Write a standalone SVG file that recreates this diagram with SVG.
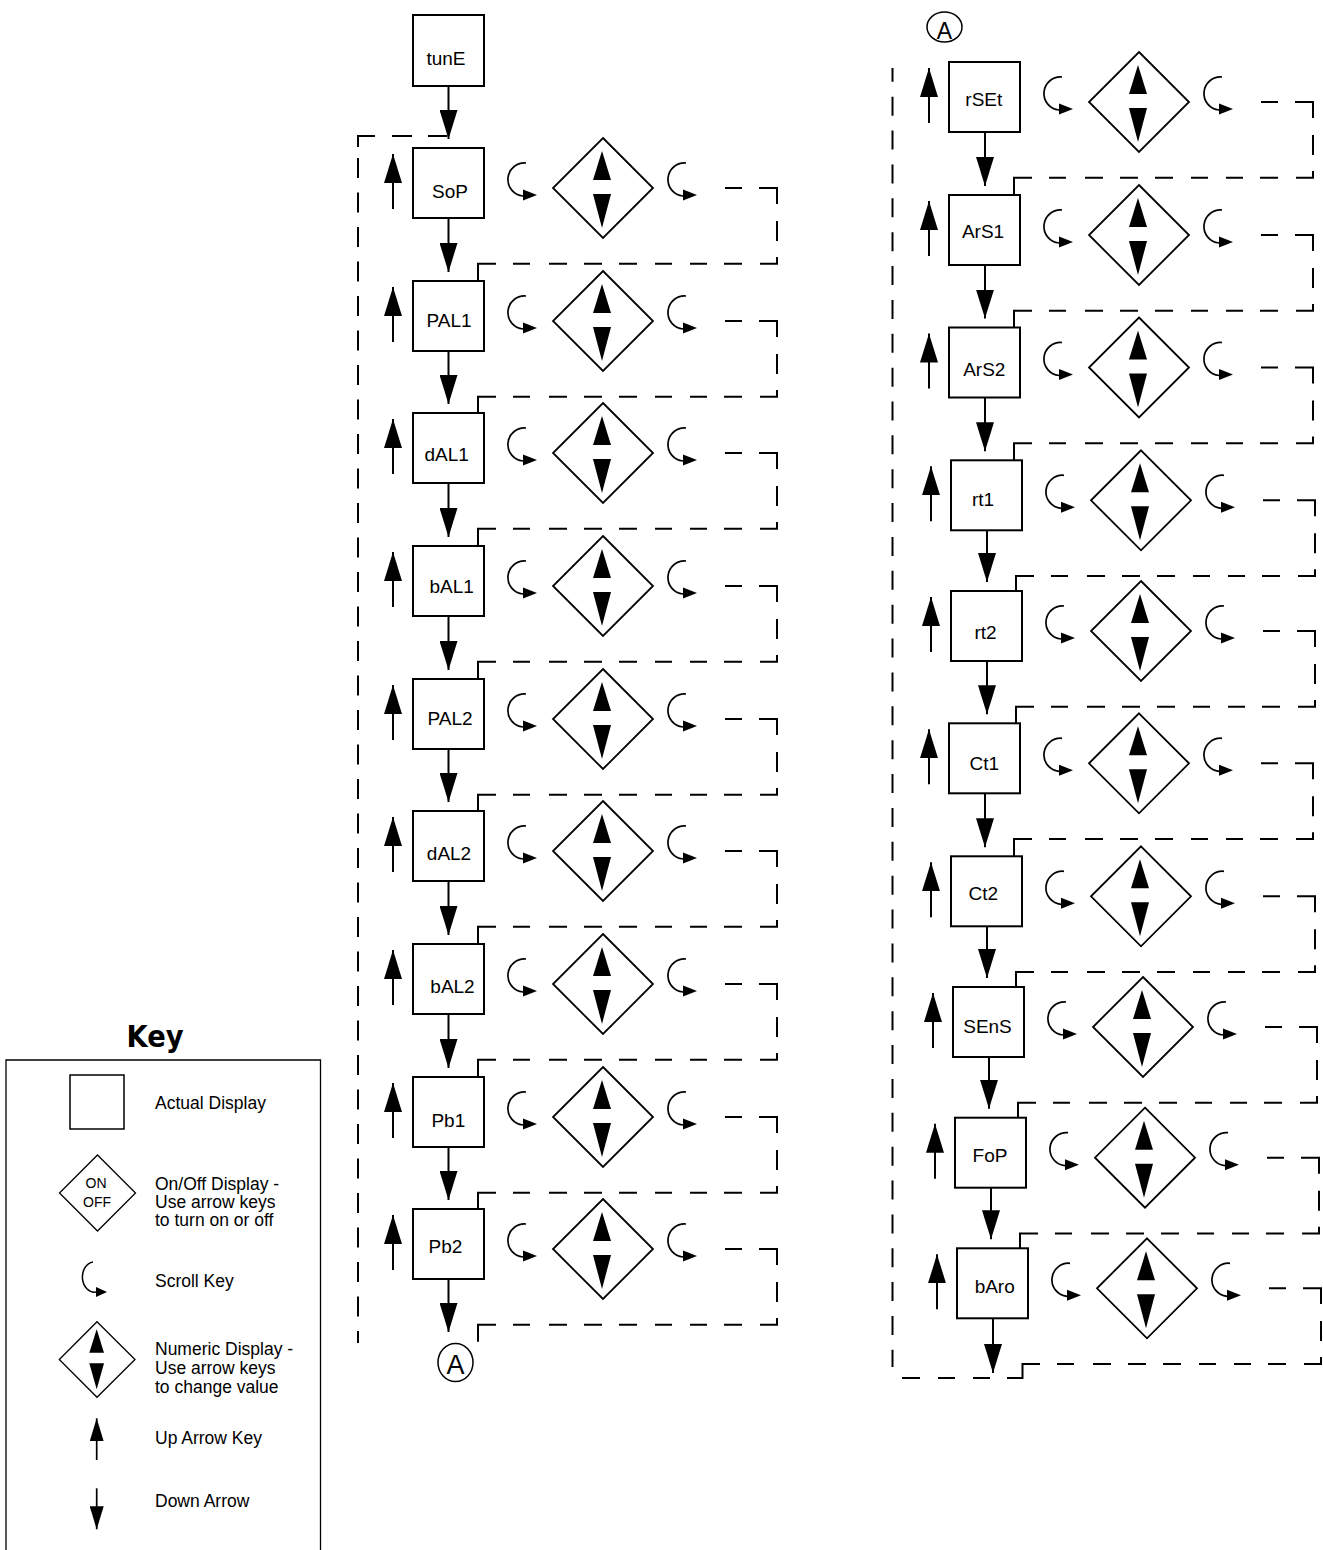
<svg xmlns="http://www.w3.org/2000/svg" width="1323" height="1550" viewBox="0 0 1323 1550">
<style>
.box{fill:#fff;stroke:#000;stroke-width:2}
.lbl{font-family:"Liberation Sans",Arial,sans-serif;font-size:19px;text-anchor:middle;fill:#000}
.ln{stroke:#000;stroke-width:2;fill:none}
.dl{stroke:#000;stroke-width:2;fill:none}
.arc{stroke:#000;stroke-width:1.7;fill:none}
.dia{fill:none;stroke:#000;stroke-width:1.8}
.kt{font-family:"Liberation Sans",Arial,sans-serif;font-size:17.5px;fill:#000}
.circ{fill:none;stroke:#000;stroke-width:1.5}
</style>
<defs>
<marker id="ah" viewBox="0 0 29 18" refX="29" refY="9" markerWidth="29" markerHeight="18" markerUnits="userSpaceOnUse" orient="auto"><path d="M0,0 L29,9 L0,18 z" fill="#000"/></marker>
<marker id="ahs" viewBox="0 0 23 14" refX="23" refY="7" markerWidth="23" markerHeight="14" markerUnits="userSpaceOnUse" orient="auto"><path d="M0,0 L23,7 L0,14 z" fill="#000"/></marker>
<g id="rowIcons">
<line x1="-20" y1="26" x2="-20" y2="-29" class="ln" marker-end="url(#ah)"/>
<path d="M113,-20 A16.5,16.5 0 0 0 110,13" class="arc"/>
<polygon points="110,6.5 124,12 110,17.5"/>
<polygon points="190,-45 240,5 190,55 140,5" class="dia"/>
<polygon points="189,-32 198,-3 180,-3"/>
<polygon points="180,11 198,11 189,45"/>
<path d="M273,-20 A16.5,16.5 0 0 0 270,13" class="arc"/>
<polygon points="270,6.5 284,12 270,17.5"/>
</g>
<path id="loop" class="dl" d="M312,5 H329 M346,5 H364 V21 M364,38 V58 M364,74 V80.7 H347 M329,80.7 H311 M294,80.7 H277 M259,80.7 H242 M224,80.7 H206 M189,80.7 H171 M154,80.7 H136 M117,80.7 H100 M83,80.7 H65 V97.7"/>
</defs>
<rect width="1323" height="1550" fill="#fff"/>

<g id="connectors">
<!-- left column down arrows -->
<g class="ln" marker-end="url(#ah)">
<line x1="448.5" y1="86" x2="448.5" y2="139" marker-end="url(#ah)"/>
<line x1="448.5" y1="218" x2="448.5" y2="272" marker-end="url(#ah)"/>
<line x1="448.5" y1="351" x2="448.5" y2="404" marker-end="url(#ah)"/>
<line x1="448.5" y1="483" x2="448.5" y2="537" marker-end="url(#ah)"/>
<line x1="448.5" y1="616" x2="448.5" y2="670" marker-end="url(#ah)"/>
<line x1="448.5" y1="749" x2="448.5" y2="802" marker-end="url(#ah)"/>
<line x1="448.5" y1="881" x2="448.5" y2="935" marker-end="url(#ah)"/>
<line x1="448.5" y1="1014" x2="448.5" y2="1068" marker-end="url(#ah)"/>
<line x1="448.5" y1="1147" x2="448.5" y2="1200" marker-end="url(#ah)"/>
<line x1="448.5" y1="1279" x2="448.5" y2="1332" marker-end="url(#ah)"/>
</g>
<!-- right column down arrows -->
<g class="ln">
<line x1="985" y1="132" x2="985" y2="186" marker-end="url(#ah)"/>
<line x1="985" y1="265" x2="985" y2="318.5" marker-end="url(#ah)"/>
<line x1="985" y1="397.5" x2="985" y2="451.3" marker-end="url(#ah)"/>
<line x1="987" y1="530.3" x2="987" y2="582" marker-end="url(#ah)"/>
<line x1="987" y1="661" x2="987" y2="714.3" marker-end="url(#ah)"/>
<line x1="985" y1="793.3" x2="985" y2="847.3" marker-end="url(#ah)"/>
<line x1="987" y1="926.3" x2="987" y2="978" marker-end="url(#ah)"/>
<line x1="989" y1="1057" x2="989" y2="1108.7" marker-end="url(#ah)"/>
<line x1="991" y1="1187.7" x2="991" y2="1239.3" marker-end="url(#ah)"/>
<line x1="993" y1="1318.3" x2="993" y2="1373" marker-end="url(#ah)"/>
</g>
<!-- left column loops -->
<use href="#loop" x="413" y="183"/>
<use href="#loop" x="413" y="316"/>
<use href="#loop" x="413" y="448"/>
<use href="#loop" x="413" y="581"/>
<use href="#loop" x="413" y="714"/>
<use href="#loop" x="413" y="846"/>
<use href="#loop" x="413" y="979"/>
<use href="#loop" x="413" y="1112"/>
<use href="#loop" x="413" y="1244"/>
<!-- left big return -->
<path class="dl" d="M447,136 H428 M412,136 H392 M375,136 H358 V147"/>
<path class="dl" d="M358,158 V1343" stroke-dasharray="20 14.5"/>
<!-- right column loops -->
<use href="#loop" x="949" y="97"/>
<use href="#loop" x="949" y="230"/>
<use href="#loop" x="949" y="362.5"/>
<use href="#loop" x="951" y="495.3"/>
<use href="#loop" x="951" y="626"/>
<use href="#loop" x="949" y="758.3"/>
<use href="#loop" x="951" y="891.3"/>
<use href="#loop" x="953" y="1022"/>
<use href="#loop" x="955" y="1152.7"/>
<path class="dl" d="M1269,1288.3 H1286 M1303,1288.3 H1321 V1304 M1321,1321 V1341 M1321,1357 V1364 H1304 M1286,1364 H1268 M1251,1364 H1234 M1216,1364 H1199 M1181,1364 H1163 M1146,1364 H1128 M1111,1364 H1093 M1074,1364 H1057 M1040,1364 H1022.5 V1378 H1007 M990,1378 H973 M955,1378 H938 M920,1378 H902"/>
<path class="dl" d="M892.5,68 V1367" stroke-dasharray="19 14.87" stroke-dashoffset="5.2"/>
</g>

<g id="node-tunE"><rect class="box" x="413" y="15" width="71" height="71"/><text class="lbl" x="446" y="65">tunE</text></g>

<g id="row-SoP"><use href="#rowIcons" x="413" y="183"/><rect class="box" x="413" y="148" width="71" height="70"/><text class="lbl" x="450" y="198">SoP</text></g>
<g id="row-PAL1"><use href="#rowIcons" x="413" y="316"/><rect class="box" x="413" y="281" width="71" height="70"/><text class="lbl" x="449" y="327">PAL1</text></g>
<g id="row-dAL1"><use href="#rowIcons" x="413" y="448"/><rect class="box" x="413" y="413" width="71" height="70"/><text class="lbl" x="446.7" y="461">dAL1</text></g>
<g id="row-bAL1"><use href="#rowIcons" x="413" y="581"/><rect class="box" x="413" y="546" width="71" height="70"/><text class="lbl" x="451.7" y="593">bAL1</text></g>
<g id="row-PAL2"><use href="#rowIcons" x="413" y="714"/><rect class="box" x="413" y="679" width="71" height="70"/><text class="lbl" x="450" y="725">PAL2</text></g>
<g id="row-dAL2"><use href="#rowIcons" x="413" y="846"/><rect class="box" x="413" y="811" width="71" height="70"/><text class="lbl" x="449" y="860">dAL2</text></g>
<g id="row-bAL2"><use href="#rowIcons" x="413" y="979"/><rect class="box" x="413" y="944" width="71" height="70"/><text class="lbl" x="452.5" y="993">bAL2</text></g>
<g id="row-Pb1"><use href="#rowIcons" x="413" y="1112"/><rect class="box" x="413" y="1077" width="71" height="70"/><text class="lbl" x="448.3" y="1127">Pb1</text></g>
<g id="row-Pb2"><use href="#rowIcons" x="413" y="1244"/><rect class="box" x="413" y="1209" width="71" height="70"/><text class="lbl" x="445.5" y="1253">Pb2</text></g>

<g id="conn-A-left"><ellipse class="circ" cx="455.5" cy="1362.5" rx="17.5" ry="19"/><text x="455.5" y="1374" font-family="Liberation Sans, Arial, sans-serif" font-size="27" text-anchor="middle">A</text></g>
<g id="conn-A-right"><ellipse class="circ" cx="944.5" cy="27" rx="17.5" ry="15"/><text x="944.5" y="39.3" font-family="Liberation Sans, Arial, sans-serif" font-size="23" text-anchor="middle">A</text></g>

<g id="row-rSEt"><use href="#rowIcons" x="949" y="97"/><rect class="box" x="949" y="62" width="71" height="70"/><text class="lbl" x="983.8" y="106">rSEt</text></g>
<g id="row-ArS1"><use href="#rowIcons" x="949" y="230"/><rect class="box" x="949" y="195" width="71" height="70"/><text class="lbl" x="983" y="238">ArS1</text></g>
<g id="row-ArS2"><use href="#rowIcons" x="949" y="362.5"/><rect class="box" x="949" y="327.5" width="71" height="70"/><text class="lbl" x="984.3" y="376">ArS2</text></g>
<g id="row-rt1"><use href="#rowIcons" x="951" y="495.3"/><rect class="box" x="951" y="460.3" width="71" height="70"/><text class="lbl" x="983" y="506">rt1</text></g>
<g id="row-rt2"><use href="#rowIcons" x="951" y="626"/><rect class="box" x="951" y="591" width="71" height="70"/><text class="lbl" x="985.5" y="639">rt2</text></g>
<g id="row-Ct1"><use href="#rowIcons" x="949" y="758.3"/><rect class="box" x="949" y="723.3" width="71" height="70"/><text class="lbl" x="984.2" y="770">Ct1</text></g>
<g id="row-Ct2"><use href="#rowIcons" x="951" y="891.3"/><rect class="box" x="951" y="856.3" width="71" height="70"/><text class="lbl" x="983.3" y="900">Ct2</text></g>
<g id="row-SEnS"><use href="#rowIcons" x="953" y="1022"/><rect class="box" x="953" y="987" width="71" height="70"/><text class="lbl" x="987.5" y="1033">SEnS</text></g>
<g id="row-FoP"><use href="#rowIcons" x="955" y="1152.7"/><rect class="box" x="955" y="1117.7" width="71" height="70"/><text class="lbl" x="990" y="1162">FoP</text></g>
<g id="row-bAro"><use href="#rowIcons" x="957" y="1283.3"/><rect class="box" x="957" y="1248.3" width="71" height="70"/><text class="lbl" x="994.7" y="1293">bAro</text></g>

<g id="key">
<text x="155" y="1047" font-family="Liberation Sans Narrow, DejaVu Sans Condensed, Liberation Sans, sans-serif" font-weight="bold" font-size="30" text-anchor="middle" textLength="57" lengthAdjust="spacingAndGlyphs">Key</text>
<path d="M6,1555 V1060 H320.5 V1555" fill="none" stroke="#000" stroke-width="1.3"/>
<rect x="70" y="1075" width="54" height="54" fill="none" stroke="#000" stroke-width="1.5"/>
<text class="kt" x="155" y="1109">Actual Display</text>
<polygon points="97.5,1155 135.5,1193 97.5,1231 59.5,1193" fill="none" stroke="#000" stroke-width="1.3"/>
<text x="96" y="1188.3" font-family="Liberation Sans, Arial, sans-serif" font-size="14" text-anchor="middle">ON</text>
<text x="97" y="1207.3" font-family="Liberation Sans, Arial, sans-serif" font-size="14" text-anchor="middle">OFF</text>
<text class="kt" x="155" y="1190">On/Off Display -</text>
<text class="kt" x="155" y="1208">Use arrow keys</text>
<text class="kt" x="155" y="1226">to turn on or off</text>
<path d="M93,1262 A12,15 0 0 0 96,1292" fill="none" stroke="#000" stroke-width="1.5"/>
<polygon points="96,1287 107,1292 96,1297"/>
<text class="kt" x="155" y="1287">Scroll Key</text>
<polygon points="97,1321.7 135,1359.5 97,1397.3 59.3,1359.5" fill="none" stroke="#000" stroke-width="1.3"/>
<polygon points="96.7,1329.3 104,1352.7 89.3,1352.7"/>
<polygon points="89.3,1363.3 104,1363.3 96.7,1389.3"/>
<text class="kt" x="155" y="1355">Numeric Display -</text>
<text class="kt" x="155" y="1374">Use arrow keys</text>
<text class="kt" x="155" y="1393">to change value</text>
<line x1="96.7" y1="1460" x2="96.7" y2="1418.3" stroke="#000" stroke-width="1.7" marker-end="url(#ahs)"/>
<text class="kt" x="155" y="1444">Up Arrow Key</text>
<line x1="96.7" y1="1488.3" x2="96.7" y2="1529.3" stroke="#000" stroke-width="1.7" marker-end="url(#ahs)"/>
<text class="kt" x="155" y="1507">Down Arrow</text>
</g>
</svg>
